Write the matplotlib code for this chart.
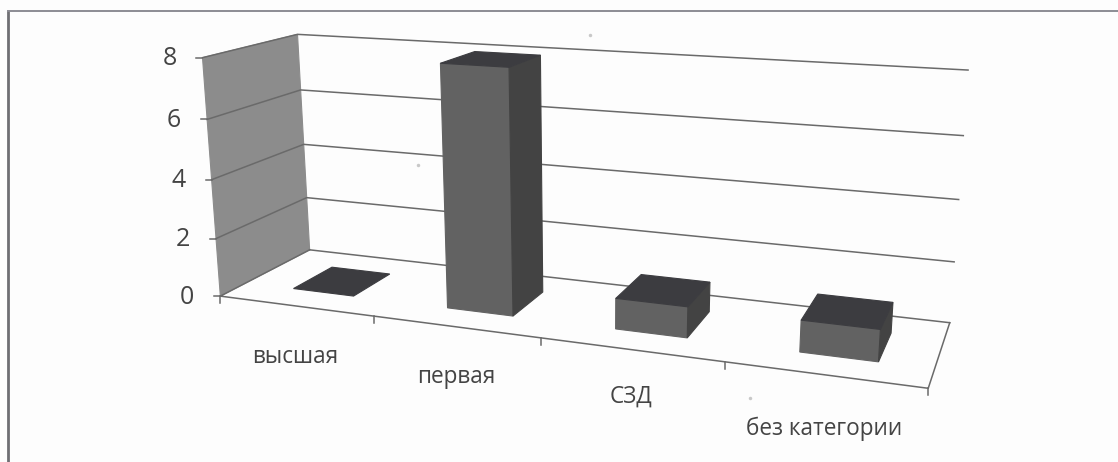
import numpy as np
import matplotlib
matplotlib.use("Agg")
import matplotlib.pyplot as plt

plt.rcParams['font.family'] = ['Open Sans', 'DejaVu Sans']

categories = ["высшая", "первая", "СЗД", "без категории"]
values = [0, 8, 1, 1]
y_ticks = [0, 2, 4, 6, 8]
y_max = 8

W, H = 1118, 462

# box corners on the picture: (across, depth, up) -> pixel
corners = [
    ((0, 0, 0), (221, 297)), ((1, 0, 0), (928, 388)),
    ((0, 1, 0), (309, 249)), ((1, 1, 0), (950, 323)),
    ((0, 0, 1), (202, 57)), ((0, 1, 1), (298, 35)),
    ((1, 1, 1), (968, 70)),
]

# fit the perspective camera from the corners
rows, rhs = [], []
for (u, v, h), (px, py) in corners:
    rows.append([u, v, h, 1, 0, 0, 0, 0, -px*u, -px*v, -px*h])
    rhs.append(px)
    rows.append([0, 0, 0, 0, u, v, h, 1, -py*u, -py*v, -py*h])
    rhs.append(py)
cam = np.linalg.lstsq(np.array(rows, float), np.array(rhs, float), rcond=None)[0]


def proj(u, v, h):
    d = cam[8]*u + cam[9]*v + cam[10]*h + 1
    return (cam[0]*u + cam[1]*v + cam[2]*h + cam[3]) / d, (cam[4]*u + cam[5]*v + cam[6]*h + cam[7]) / d


def face(ax, pts, color, z):
    xy = [proj(*p) for p in pts]
    ax.fill([p[0] for p in xy], [p[1] for p in xy], color=color, lw=0.8, ec=color, zorder=z)


fig = plt.figure(figsize=(W/100, H/100), dpi=100, facecolor='#fdfdfd')
ax = fig.add_axes([0, 0, 1, 1])
ax.set_xlim(0, W)
ax.set_ylim(H, 0)
ax.axis('off')

# scan frame
ax.plot([7.5, 7.5], [H, 10], color='#6f6f74', lw=2.0, solid_capstyle='butt', zorder=1)
ax.plot([6.5, W], [11, 11], color='#8c8c94', lw=1.4, solid_capstyle='butt', zorder=1)

# specks from the scan
ax.plot([590, 418, 750], [35, 165, 398], ls='none', marker='o', ms=2.5, color='#c8c8c8', mew=0, zorder=1)

# left wall
face(ax, [(0, 0, 0), (0, 1, 0), (0, 1, 1), (0, 0, 1)], '#8c8c8c', 2)

# gridlines across wall and back
for t in y_ticks:
    h = t / y_max
    line = [proj(0, 0, h), proj(0, 1, h), proj(1, 1, h)]
    if t == 0:
        line = line[1:]
    ax.plot([p[0] for p in line], [p[1] for p in line], color='#6a6a6a', lw=1.1, zorder=3)
    tx, ty = proj(0, 0, h)
    ax.plot([tx-6, tx], [ty, ty], color='#6a6a6a', lw=1.1, zorder=3)
    ax.text(tx-33, ty+1, str(t), fontsize=18, color='#444444', ha='center', va='center')

# floor outline and ticks
outline = [proj(0, 1, 0), proj(0, 0, 0), proj(1, 0, 0), proj(1, 1, 0)]
ax.plot([p[0] for p in outline], [p[1] for p in outline], color='#6a6a6a', lw=1.1, zorder=3)
for i in range(len(categories)+1):
    tx, ty = proj(i/len(categories), 0, 0)
    ax.plot([tx, tx], [ty, ty+7], color='#6a6a6a', lw=1.1, zorder=3)

# bars
bar_w = 0.05
bar_shift = 0.006
v0, v1 = 0.27, 0.72
for i, val in enumerate(values):
    c = (i+0.5)/len(categories) + bar_shift
    u0, u1 = c-bar_w, c+bar_w
    h = val/y_max
    if val > 0:
        face(ax, [(u0, v0, 0), (u1, v0, 0), (u1, v0, h), (u0, v0, h)], '#626262', 5)
        face(ax, [(u1, v0, 0), (u1, v1, 0), (u1, v1, h), (u1, v0, h)], '#434343', 5)
    face(ax, [(u0, v0, h), (u1, v0, h), (u1, v1, h), (u0, v1, h)], '#3c3c40', 6)

# category labels
label_x = [295, 456, 631, 824]
label_y = [357, 377, 397, 429]
for name, lx, ly in zip(categories, label_x, label_y):
    ax.text(lx, ly, name, fontsize=16.3, color='#444444', ha='center', va='center')

fig.savefig("out.png", dpi=100, facecolor=fig.get_facecolor())
